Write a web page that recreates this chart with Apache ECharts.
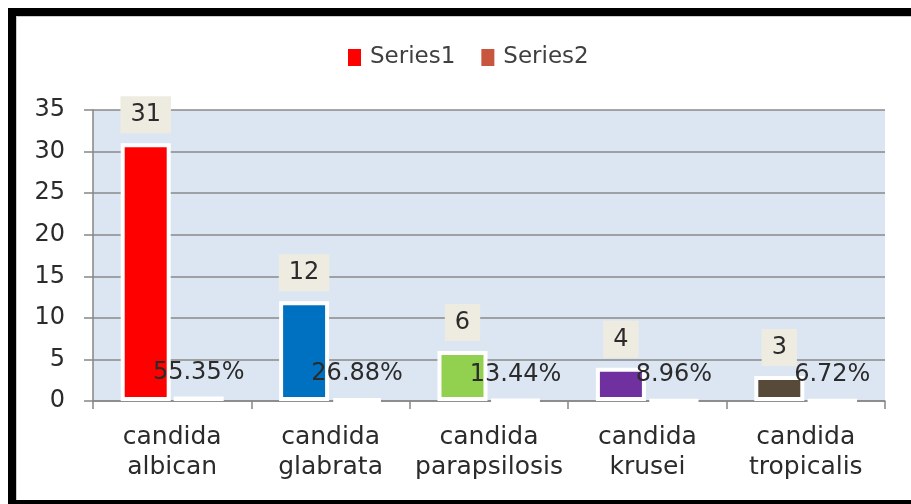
<!DOCTYPE html>
<html>
<head>
<meta charset="utf-8">
<script src="https://cdn.jsdelivr.net/npm/echarts@6/dist/echarts.min.js"></script>
<style>
  html, body { margin: 0; padding: 0; background: #fff; }
  .frame {
    position: absolute; left: 8px; top: 8px; width: 960px; height: 484px;
    border-top: 8px solid #000; border-left: 8px solid #000; border-bottom: 4px solid #000;
    box-shadow: inset 1px 1px 0 #ccc;
  }
  #chart { position: absolute; left: 0; top: 0; width: 911px; height: 504px; }
</style>
</head>
<body>
<div class="frame"></div>
<div id="chart"></div>
<script>
// 数据
const categories = ['candida\nalbican', 'candida\nglabrata', 'candida\nparapsilosis', 'candida\nkrusei', 'candida\ntropicalis']
const series1 = [31, 12, 6, 4, 3]
const series2 = [0.5535, 0.2688, 0.1344, 0.0896, 0.0672]
const yTicks = [0, 5, 10, 15, 20, 25, 30, 35]

// 每根柱子的颜色
const barColors = ['#FF0000', '#0070C0', '#92D050', '#7030A0', '#584A39']

const font = 'DejaVu Sans'
const textColor = '#2b2b2b'

const chart = echarts.init(document.getElementById('chart'))

const option = {
  animation: false,
  legend: {
    top: 41,
    left: 341,
    // 图例图标带白色描边，放大一点让可见部分约 11x15
    itemWidth: 15,
    itemHeight: 19,
    itemGap: 24,
    icon: 'rect',
    textStyle: { fontFamily: font, fontSize: 23, color: '#404040', padding: [0, 0, 0, 3] },
    data: ['Series1', 'Series2']
  },
  grid: {
    left: 93,
    right: 26,
    top: 110,
    bottom: 103,
    show: true,
    backgroundColor: '#DCE6F2',
    borderWidth: 0
  },
  xAxis: {
    type: 'category',
    data: categories,
    axisLine: { lineStyle: { color: '#868686', width: 1.5 } },
    axisTick: { show: true, length: 8, lineStyle: { color: '#868686', width: 1.5 } },
    axisLabel: {
      fontFamily: font, fontSize: 25, color: textColor,
      lineHeight: 30, margin: 21, interval: 0
    }
  },
  yAxis: {
    type: 'value',
    min: yTicks[0],
    max: yTicks[yTicks.length - 1],
    interval: 5,
    axisLine: { show: true, lineStyle: { color: '#868686', width: 1.5 } },
    axisTick: { show: true, length: 9, lineStyle: { color: '#868686', width: 1.5 } },
    axisLabel: { fontFamily: font, fontSize: 24, color: textColor, margin: 28 },
    splitLine: { lineStyle: { color: '#8a8a8a', width: 1.5 } }
  },
  series: [
    {
      name: 'Series1',
      type: 'bar',
      data: series1.map((v, i) => ({ value: v, itemStyle: { color: barColors[i] } })),
      barWidth: 50,
      barGap: '6%',
      itemStyle: { color: '#FF0000', borderColor: '#fff', borderWidth: 4 },
      label: {
        show: true,
        position: 'top',
        distance: 10,
        fontFamily: font,
        fontSize: 24,
        color: textColor,
        backgroundColor: '#EEECE1',
        padding: [7, 10, 6, 10]
      }
    },
    {
      name: 'Series2',
      type: 'bar',
      data: series2,
      barWidth: 50,
      itemStyle: { color: '#C8553D', borderColor: '#fff', borderWidth: 4 },
      label: {
        show: true,
        position: 'top',
        distance: 12,
        fontFamily: font,
        fontSize: 24,
        color: textColor,
        formatter: p => (p.value * 100).toFixed(2) + '%'
      }
    }
  ]
}

chart.setOption(option)
</script>
</body>
</html>
